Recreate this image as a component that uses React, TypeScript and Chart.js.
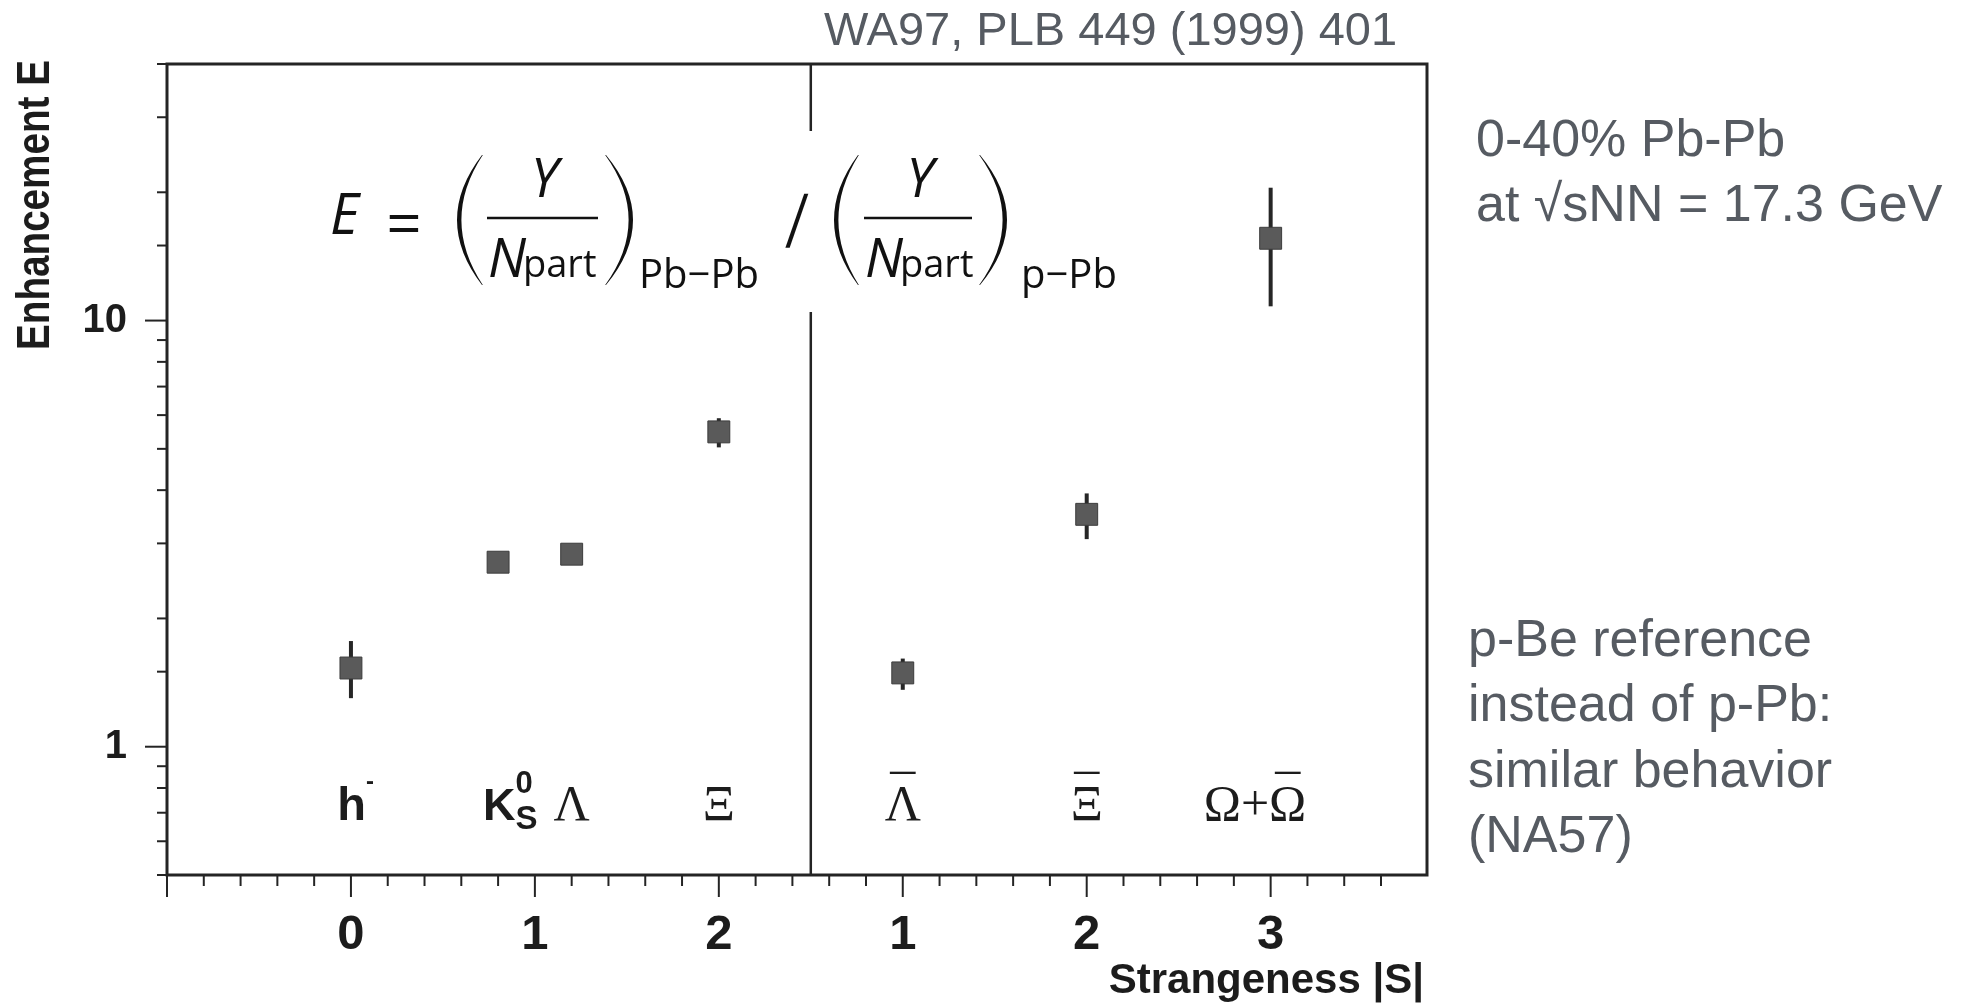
import React, { useEffect, useRef } from 'react';
import { Chart, registerables } from 'chart.js';

Chart.register(...registerables);

// ---------------- data ----------------
const X_POS = [0, 0.8, 1.2, 2, 3, 4, 5];
const PARTICLES = ['h-', 'K0S', 'Λ', 'Ξ', 'anti-Λ', 'anti-Ξ', 'Ω+anti-Ω'];
const ENHANCEMENT = [1.53, 2.71, 2.83, 5.48, 1.49, 3.51, 15.6];
const ERR_UP = [1.77, 2.71, 2.83, 5.9, 1.61, 3.93, 20.5];
const ERR_DOWN = [1.3, 2.71, 2.83, 5.04, 1.36, 3.07, 10.8];
const X_TICK_POS = [0, 1, 2, 3, 4, 5];
const X_TICK_TEXT = ['0', '1', '2', '1', '2', '3'];
const Y_TICK_LABELED = [1, 10];
const LABEL_X = [0.025, 0.866, 1.2, 2, 3, 4, 4.915];
const PANEL_DIVIDER = 2.5;
const X_MIN = -1;
const X_MAX = 5.85;
const Y_MIN = 0.5;
const Y_MAX = 40;
const Y_TITLE = 'Enhancement E';
const X_TITLE = 'Strangeness |S|';
const CITATION = 'WA97, PLB 449 (1999) 401';
const NOTE_TOP = ['0-40% Pb-Pb', 'at √sNN = 17.3 GeV'];
const NOTE_BOTTOM = ['p-Be reference', 'instead of p-Pb:', 'similar behavior', '(NA57)'];

const SANS = '"Liberation Sans", Arial, sans-serif';
const SERIF = '"Liberation Serif", "Times New Roman", serif';
const MATH = '"Open Sans", "Noto Sans", sans-serif';
const INK = '#1c1c1c';
const NOTE_COLOR = '#565b62';
const MACRON = '\u00AF';

type Seg = {
  t: string;
  font: string;
  dy?: number;
  stack?: { t: string; font: string; dy: number };
  bar?: string;
};

function labelSegments(name: string): Seg[] {
  const g = `50px ${SERIF}`;
  switch (name) {
    case 'h-':
      return [
        { t: 'h', font: `bold 47px ${SANS}` },
        { t: '-', font: `bold 24px ${SANS}`, dy: -31 },
      ];
    case 'K0S':
      return [
        { t: 'K', font: `bold 45px ${SANS}` },
        { t: '0', font: `bold 31px ${SANS}`, dy: -27, stack: { t: 'S', font: `bold 33px ${SANS}`, dy: 9 } },
      ];
    case 'Λ':
      return [{ t: 'Λ', font: g }];
    case 'Ξ':
      return [{ t: 'Ξ', font: g }];
    case 'anti-Λ':
      return [{ t: 'Λ', font: g, bar: 'Λ' }];
    case 'anti-Ξ':
      return [{ t: 'Ξ', font: g, bar: 'Ξ' }];
    default:
      return [{ t: 'Ω+Ω', font: g, bar: 'Ω' }];
  }
}

function drawSegments(ctx: CanvasRenderingContext2D, segs: Seg[], cx: number, baseline: number, barY: number) {
  const widths = segs.map((s) => {
    ctx.font = s.font;
    let w = ctx.measureText(s.t).width;
    if (s.stack) {
      ctx.font = s.stack.font;
      w = Math.max(w, ctx.measureText(s.stack.t).width);
    }
    return w;
  });
  const total = widths.reduce((a, b) => a + b, 0);
  let x = cx - total / 2;
  ctx.textBaseline = 'alphabetic';
  segs.forEach((s, i) => {
    ctx.textAlign = 'left';
    ctx.font = s.font;
    ctx.fillText(s.t, x, baseline + (s.dy || 0));
    if (s.bar) {
      const full = ctx.measureText(s.t).width;
      const barW = ctx.measureText(s.bar).width;
      const bx = x + full - barW / 2;
      const m = ctx.measureText(MACRON);
      const a = m.actualBoundingBoxAscent;
      const d = m.actualBoundingBoxDescent;
      ctx.textAlign = 'center';
      ctx.fillText(MACRON, bx, barY + (a - d) / 2);
    }
    if (s.stack) {
      ctx.textAlign = 'left';
      ctx.font = s.stack.font;
      ctx.fillText(s.stack.t, x, baseline + s.stack.dy);
    }
    x += widths[i];
  });
}

function paren(ctx: CanvasRenderingContext2D, xTip: number, xBulge: number, yTop: number, yBot: number, thick: number) {
  const ym = (yTop + yBot) / 2;
  const dir = Math.sign(xTip - xBulge);
  const cOuter = 2 * xBulge - xTip;
  const cInner = cOuter + dir * thick * 2;
  ctx.beginPath();
  ctx.moveTo(xTip, yTop);
  ctx.quadraticCurveTo(cOuter, ym, xTip, yBot);
  ctx.lineTo(xTip + dir * 0.8, yBot);
  ctx.quadraticCurveTo(cInner, ym, xTip + dir * 0.8, yTop);
  ctx.closePath();
  ctx.fill();
}

const annotate = {
  id: 'annotate',
  beforeDatasetsDraw(chart: any) {
    const ctx: CanvasRenderingContext2D = chart.ctx;
    const xs = chart.scales.x;
    const ys = chart.scales.y;
    ctx.save();
    ctx.strokeStyle = '#262626';
    ctx.lineWidth = 4;
    X_POS.forEach((u, i) => {
      if (ERR_UP[i] > ERR_DOWN[i]) {
        const px = xs.getPixelForValue(u);
        ctx.beginPath();
        ctx.moveTo(px, ys.getPixelForValue(ERR_UP[i]));
        ctx.lineTo(px, ys.getPixelForValue(ERR_DOWN[i]));
        ctx.stroke();
      }
    });
    ctx.restore();
  },
  afterDraw(chart: any) {
    const ctx: CanvasRenderingContext2D = chart.ctx;
    const xs = chart.scales.x;
    const ys = chart.scales.y;
    const ca = chart.chartArea;
    const L = ca.left;
    const T = ca.top;
    const P = (ax: number, ay: number): [number, number] => [L + ax - 167, T + ay - 57];
    ctx.save();

    // frame
    ctx.strokeStyle = '#242424';
    ctx.lineWidth = 3;
    ctx.strokeRect(ca.left, ca.top, ca.right - ca.left, ca.bottom - ca.top);

    // y tick marks
    ctx.lineWidth = 2;
    ys.ticks.forEach((t: any) => {
      const py = ys.getPixelForValue(t.value);
      const major = Y_TICK_LABELED.some((v) => Math.abs(v - t.value) < 1e-9);
      const len = major ? 22 : 10;
      ctx.beginPath();
      ctx.moveTo(ca.left - len, py);
      ctx.lineTo(ca.left, py);
      ctx.stroke();
    });
    // x tick marks
    xs.ticks.forEach((t: any) => {
      const q = t.value / 0.2;
      if (Math.abs(q - Math.round(q)) > 1e-6) return;
      const px = xs.getPixelForValue(t.value);
      const major = Math.abs(t.value - Math.round(t.value)) < 1e-6;
      const len = major ? 22 : 11;
      ctx.beginPath();
      ctx.moveTo(px, ca.bottom);
      ctx.lineTo(px, ca.bottom + len);
      ctx.stroke();
    });

    // panel divider (interrupted by the formula)
    const dx = xs.getPixelForValue(PANEL_DIVIDER);
    ctx.lineWidth = 2.5;
    ctx.beginPath();
    ctx.moveTo(dx, ca.top);
    ctx.lineTo(dx, P(0, 124)[1]);
    ctx.moveTo(dx, P(0, 305)[1]);
    ctx.lineTo(dx, ca.bottom);
    ctx.stroke();

    // formula
    ctx.fillStyle = '#111';
    ctx.strokeStyle = '#111';
    ctx.textBaseline = 'alphabetic';
    ctx.textAlign = 'left';
    ctx.font = `italic 56px ${MATH}`;
    ctx.fillText('E', ...P(330, 227));
    ctx.textAlign = 'center';
    ctx.font = `62px ${MATH}`;
    ctx.fillText('=', ...P(404, 239));
    const fracs = [
      { lt: 482, lb: 457, rt: 606, rb: 633, bar0: 487, bar1: 598, sub: 'Pb\u2212Pb', subX: 639 },
      { lt: 858, lb: 834, rt: 980, rb: 1007, bar0: 864, bar1: 972, sub: 'p\u2212Pb', subX: 1021 },
    ];
    fracs.forEach((f) => {
      paren(ctx, P(f.lt, 0)[0], P(f.lb, 0)[0], P(0, 148)[1], P(0, 278)[1], 4);
      paren(ctx, P(f.rt, 0)[0], P(f.rb, 0)[0], P(0, 148)[1], P(0, 278)[1], 4);
      ctx.lineWidth = 2.5;
      ctx.beginPath();
      ctx.moveTo(...P(f.bar0, 211));
      ctx.lineTo(...P(f.bar1, 211));
      ctx.stroke();
      ctx.textAlign = 'center';
      ctx.font = `italic 54px ${MATH}`;
      ctx.fillText('Y', ...P((f.bar0 + f.bar1) / 2 + 2, 190));
      ctx.textAlign = 'left';
      ctx.font = `italic 54px ${MATH}`;
      const nx = P(f.bar0 + 1, 270);
      ctx.fillText('N', nx[0], nx[1]);
      const nw = ctx.measureText('N').width;
      ctx.font = `38px ${MATH}`;
      ctx.fillText('part', nx[0] + nw - 3, nx[1]);
      ctx.font = `40px ${MATH}`;
      ctx.fillText(f.sub, ...P(f.subX, 281));
    });
    // thin slanted slash between the two ratios
    ctx.save();
    const sp = P(793, 240);
    ctx.translate(sp[0], sp[1]);
    ctx.transform(1, 0, -0.2, 1.36, 0, 0);
    ctx.textAlign = 'center';
    ctx.font = `54px ${SANS}`;
    ctx.fillText('/', 0, 0);
    ctx.restore();

    // particle labels
    ctx.fillStyle = INK;
    const labelBase = P(0, 813)[1];
    const barY = P(0, 765)[1];
    PARTICLES.forEach((name, i) => {
      drawSegments(ctx, labelSegments(name), xs.getPixelForValue(LABEL_X[i]), labelBase, barY);
    });

    // axis titles
    ctx.fillStyle = INK;
    ctx.save();
    ctx.translate(36, 205);
    ctx.rotate(-Math.PI / 2);
    ctx.scale(0.84, 1);
    ctx.font = `bold 46px ${SANS}`;
    ctx.textAlign = 'center';
    ctx.textBaseline = 'middle';
    ctx.fillText(Y_TITLE, 0, 0);
    ctx.restore();

    ctx.font = `bold 42px ${SANS}`;
    ctx.textAlign = 'right';
    ctx.textBaseline = 'alphabetic';
    ctx.fillText(X_TITLE, ca.right - 3, 993);

    // notes outside the frame
    ctx.fillStyle = NOTE_COLOR;
    ctx.textAlign = 'left';
    ctx.font = `47px ${SANS}`;
    ctx.fillText(CITATION, 824, 45);
    ctx.font = `52px ${SANS}`;
    NOTE_TOP.forEach((s, i) => ctx.fillText(s, 1476, 156 + i * 65));
    NOTE_BOTTOM.forEach((s, i) => ctx.fillText(s, 1468, 656 + i * 65.3));

    ctx.restore();
  },
};

export default function App() {
  const ref = useRef<HTMLCanvasElement | null>(null);
  useEffect(() => {
    if (!ref.current) return;
    const chart = new Chart(ref.current, {
      type: 'scatter',
      data: {
        datasets: [
          {
            data: X_POS.map((x, i) => ({ x, y: ENHANCEMENT[i] })),
            pointStyle: 'rect',
            pointRadius: 15.5,
            backgroundColor: '#5a5a5a',
            borderColor: '#3c3c3c',
            borderWidth: 1,
          },
        ],
      },
      options: {
        animation: false,
        responsive: false,
        devicePixelRatio: 1,
        layout: { padding: { top: 57, left: 0, right: 546, bottom: 0 } },
        plugins: { legend: { display: false }, tooltip: { enabled: false } },
        scales: {
          x: {
            type: 'linear',
            min: X_MIN,
            max: X_MAX,
            afterFit: (s: any) => {
              s.height = 129;
            },
            grid: { display: false, drawTicks: false },
            border: { display: false },
            ticks: {
              stepSize: 0.2,
              autoSkip: false,
              maxRotation: 0,
              minRotation: 0,
              padding: 31,
              color: INK,
              font: { family: SANS, weight: 'bold', size: 49 },
              callback: (v: any) => {
                const idx = X_TICK_POS.findIndex((p) => Math.abs(p - Number(v)) < 1e-6);
                return idx >= 0 ? X_TICK_TEXT[idx] : '';
              },
            },
          },
          y: {
            type: 'logarithmic',
            min: Y_MIN,
            max: Y_MAX,
            afterFit: (s: any) => {
              s.width = 167;
            },
            grid: { display: false, drawTicks: false },
            border: { display: false },
            ticks: {
              autoSkip: false,
              padding: 40,
              color: INK,
              font: { family: SANS, weight: 'bold', size: 40 },
              callback: (v: any) => (Y_TICK_LABELED.some((t) => Math.abs(t - Number(v)) < 1e-9) ? String(Number(v)) : ''),
            },
          },
        },
      },
      plugins: [annotate],
    } as any);
    return () => chart.destroy();
  }, []);
  return (
    <div style={{ position: 'fixed', left: 0, top: 0, width: 1973, height: 1004, background: '#fff' }}>
      <canvas ref={ref} width={1973} height={1004} style={{ display: 'block', width: 1973, height: 1004 }} />
    </div>
  );
}
